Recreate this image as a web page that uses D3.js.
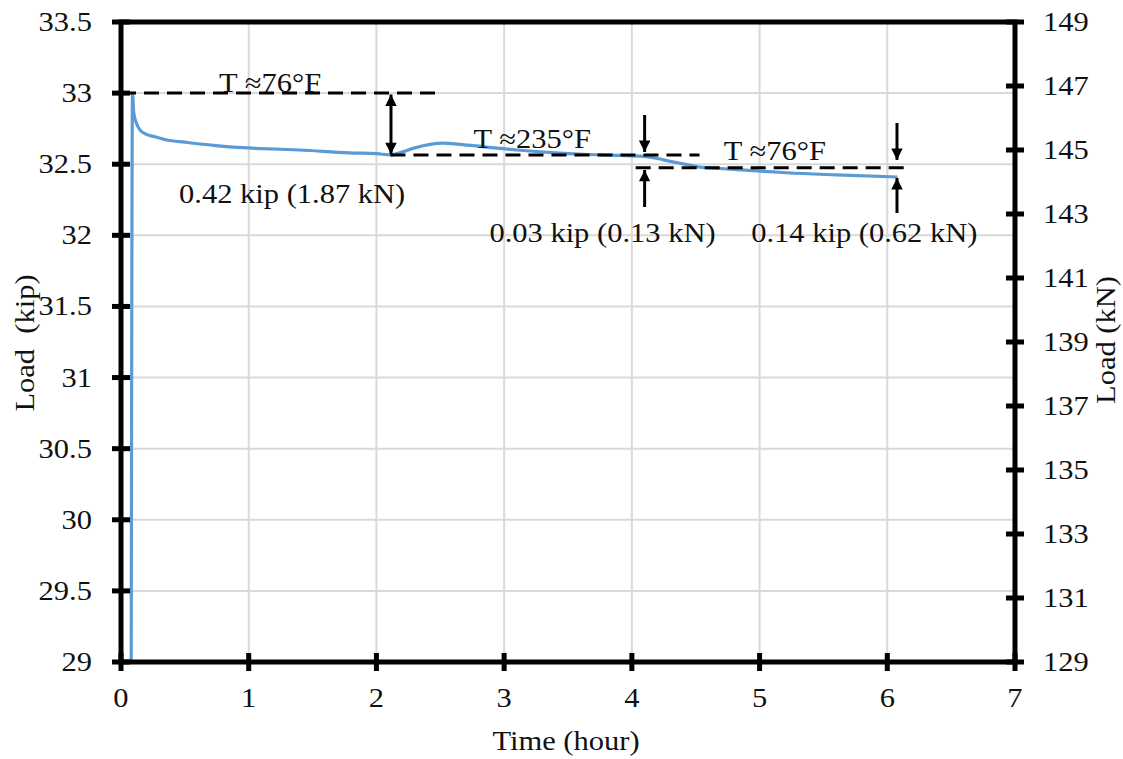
<!DOCTYPE html>
<html><head><meta charset="utf-8">
<script src="https://cdn.jsdelivr.net/npm/d3@7"></script>
<style>
html,body{margin:0;padding:0;background:#fff;}
text{font-family:"Liberation Serif","Times New Roman",serif;fill:#111;}
</style></head>
<body><svg id="c" width="1123" height="759"></svg>
<script>
// ---- data ----
const timeHour = [0.08,0.09,0.10,0.12,0.15,0.20,0.28,0.36,0.50,0.70,0.88,1.10,1.40,1.79,2.00,2.11,2.20,2.30,2.42,2.52,2.65,2.85,3.10,3.40,3.62,3.90,4.09,4.20,4.30,4.42,4.53,4.69,4.95,5.21,5.60,6.08];
const loadKip  = [29.0,33.0,32.86,32.79,32.74,32.71,32.69,32.67,32.655,32.635,32.62,32.61,32.60,32.58,32.575,32.565,32.585,32.615,32.64,32.648,32.64,32.622,32.60,32.58,32.57,32.562,32.555,32.54,32.52,32.50,32.48,32.47,32.455,32.44,32.425,32.41];
const xTicks = [0,1,2,3,4,5,6,7];
const yTicksKip = [29,29.5,30,30.5,31,31.5,32,32.5,33,33.5];
const yTicksKN = [129,131,133,135,137,139,141,143,145,147,149];
const refLines = [ // dashed reference levels [x0, x1, load]
  [0,2.5,33.0],[2.11,4.53,32.565],[4.03,6.18,32.476]
];
const arrows = [ // [x, from, to(tip), double]
  [2.114,32.57,32.99,true],
  [4.10,32.846,32.586,false],
  [4.10,32.199,32.46,false],
  [6.076,32.79,32.53,false],
  [6.076,32.157,32.403,false]
];
const notes = [ // [text, centre x (hour), baseline (kip)]
  ["T \u224876\u00b0F",1.167,33.008],
  ["0.42 kip (1.87 kN)",1.34,32.227],
  ["T \u2248235\u00b0F",3.22,32.614],
  ["T \u224876\u00b0F",5.12,32.53],
  ["0.03 kip (0.13 kN)",3.77,31.953],
  ["0.14 kip (0.62 kN)",5.82,31.953]
];

// ---- layout ----
const L=121,R=1015,T=22,B=662;
const FS=27, SX=1.13;
const svg=d3.select("#c");
const x=d3.scaleLinear().domain([0,7]).range([L,R]);
const y=d3.scaleLinear().domain([29,33.5]).range([B,T]);
const y2=d3.scaleLinear().domain([129,149]).range([B,T]);

function label(px,py,txt,anchor,rot){
  return svg.append("text")
    .attr("transform",`translate(${px},${py}) rotate(${rot||0}) scale(${SX},1)`)
    .attr("text-anchor",anchor||"middle")
    .attr("font-size",FS).text(txt);
}

// grid
svg.append("g").selectAll("line").data(xTicks.slice(1,-1)).join("line")
  .attr("x1",d=>x(d)).attr("x2",d=>x(d)).attr("y1",T).attr("y2",B)
  .attr("stroke","#d9d9d9").attr("stroke-width",2);
svg.append("g").selectAll("line").data(yTicksKip.slice(1,-1)).join("line")
  .attr("y1",d=>y(d)).attr("y2",d=>y(d)).attr("x1",L).attr("x2",R)
  .attr("stroke","#d9d9d9").attr("stroke-width",2);

// series
svg.append("path").datum(timeHour.map((t,i)=>[t,loadKip[i]]))
  .attr("fill","none").attr("stroke","#5b9bd5").attr("stroke-width",3.2)
  .attr("stroke-linejoin","round")
  .attr("d",d3.line().x(d=>x(d[0])).y(d=>y(d[1])).curve(d3.curveMonotoneX));

// dashed reference lines
svg.append("g").selectAll("line").data(refLines).join("line")
  .attr("x1",d=>x(d[0])).attr("x2",d=>x(d[1])).attr("y1",d=>y(d[2])).attr("y2",d=>y(d[2]))
  .attr("stroke","#000").attr("stroke-width",3).attr("stroke-dasharray","15,8");

// arrows
const defs=svg.append("defs");
defs.append("marker").attr("id","ah").attr("viewBox","0 0 10 10").attr("refX",10).attr("refY",5)
  .attr("markerWidth",4.2).attr("markerHeight",3.8).attr("markerUnits","strokeWidth").attr("orient","auto-start-reverse")
  .append("path").attr("d","M0,0 L10,5 L0,10 Z").attr("fill","#000");
svg.append("g").selectAll("line").data(arrows).join("line")
  .attr("x1",d=>x(d[0])).attr("x2",d=>x(d[0])).attr("y1",d=>y(d[1])).attr("y2",d=>y(d[2]))
  .attr("stroke","#000").attr("stroke-width",3)
  .attr("marker-end","url(#ah)").attr("marker-start",d=>d[3]?"url(#ah)":null);

// notes
notes.forEach(n=>label(x(n[1]),y(n[2]),n[0],"middle"));

// frame & axes
const ax=svg.append("g").attr("stroke","#000").attr("stroke-width",5).attr("fill","none");
ax.append("path").attr("d",`M${L},${T}H${R}V${B}H${L}Z`).attr("stroke-linejoin","miter");
ax.selectAll(".tx").data(xTicks).join("line").attr("x1",d=>x(d)).attr("x2",d=>x(d)).attr("y1",B-9).attr("y2",B+9);
ax.selectAll(".tyl").data(yTicksKip).join("line").attr("y1",d=>y(d)).attr("y2",d=>y(d)).attr("x1",L-9).attr("x2",L+9);
ax.selectAll(".tyr").data(yTicksKN).join("line").attr("y1",d=>y2(d)).attr("y2",d=>y2(d)).attr("x1",R-9).attr("x2",R+9);

// tick labels
xTicks.forEach(t=>label(x(t),B+45,d3.format("d")(t),"middle"));
yTicksKip.forEach(t=>label(L-29,y(t)+9,String(t),"end"));
yTicksKN.forEach(t=>label(R+28,y2(t)+9,String(t),"start"));

// axis titles
label((L+R)/2-2,750,"Time (hour)","middle");
label(34,343,"Load\u00a0\u00a0(kip)","middle",-90);
label(1115,340,"Load (kN)","middle",-90);
</script></body></html>
